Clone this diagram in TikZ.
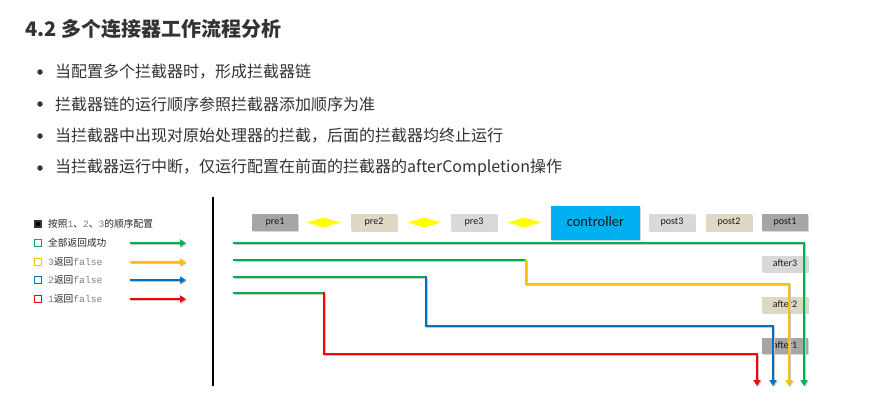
\documentclass[tikz,border=0pt]{standalone}
\usepackage{fontspec}
\setmainfont{Noto Sans CJK SC}
\newfontfamily\boxfont{Carlito}
\newfontfamily\codefont{Liberation Mono}
\usetikzlibrary{arrows.meta, shapes.geometric, shadows, positioning}
\definecolor{pageink}{HTML}{333333}
\definecolor{codegray}{HTML}{808080}
\definecolor{okgreen}{HTML}{00B050}
\definecolor{falseyellow}{HTML}{FFC000}
\definecolor{falseblue}{HTML}{0070C0}
\definecolor{falsered}{HTML}{FF0000}
\definecolor{stepdark}{HTML}{A6A6A6}
\definecolor{stepbeige}{HTML}{DDD9C4}
\definecolor{steplight}{HTML}{D9D9D9}
\definecolor{ctrlcyan}{HTML}{00B0F0}
\definecolor{gemyellow}{HTML}{FFFF00}

\begin{document}
\begin{tikzpicture}[
  x=1pt,
  y=-1pt,
  node distance=10pt,
  every node/.style={pageink},
  stepbox/.style={draw=none, inner sep=0pt, outer sep=0pt, minimum width=46pt,
                  minimum height=17pt, text=black!90,
                  text height=6.5pt, text depth=1.8pt,
                  font=\boxfont\fontsize{10}{12}\selectfont,
                  drop shadow={shadow xshift=1.3pt, shadow yshift=-1.3pt,
                               opacity=0.3}},
  gem/.style={diamond, fill=gemyellow, inner sep=0pt, outer sep=0pt,
              minimum width=33pt, minimum height=10pt},
  flow/.style={line width=2.4pt, line cap=rect,
               preaction={draw=black!22, line width=2.4pt,
                          transform canvas={xshift=1pt, yshift=-1.2pt}}},
  tip/.style={-{Triangle[length=6pt, width=7pt]}},
  legendmark/.style={draw, line width=1.5pt, inner sep=0pt,
                     minimum size=7pt},
  legendtext/.style={anchor=west, inner sep=0pt, text=black!85,
                     font=\fontsize{9.7}{11}\selectfont},
  bulletdot/.style={circle, fill=pageink, inner sep=0pt, minimum size=5.5pt}
]
  \useasboundingbox (0,0) rectangle (887,410);
  \fill[white] (0,0) rectangle (887,410);

  % ---- heading and bullet list ------------------------------------------
  \node[anchor=west, inner sep=0pt, font=\bfseries\fontsize{20}{24}\selectfont]
    (heading) at (25,29) {4.2 多个连接器工作流程分析};

  \foreach \i/\y/\t in {1/72/{当配置多个拦截器时，形成拦截器链},
                        2/104/{拦截器链的运行顺序参照拦截器添加顺序为准},
                        3/136/{当拦截器中出现对原始处理器的拦截，后面的拦截器均终止运行},
                        4/168/{当拦截器运行中断，仅运行配置在前面的拦截器的afterCompletion操作}} {
    \node[bulletdot] (dot\i) at (40,\y) {};
    \node[anchor=west, inner sep=0pt, font=\fontsize{16}{19}\selectfont]
      (item\i) at (55,\y) {\t};
  }

  % ---- legend -------------------------------------------------------------
  \node[legendmark, fill=black, minimum size=6pt] (mark0) at (38,224) {};
  \node[legendtext] (key0) at (48,224)
    {按照{\color{codegray}\codefont 1}、{\color{codegray}\codefont 2}、{\color{codegray}\codefont 3}的顺序配置};

  \foreach \i/\y/\c/\t in {1/243/okgreen/{全部返回成功},
                           2/262/falseyellow/{{\color{codegray}\codefont 3}返回{\color{codegray}\codefont false}},
                           3/280/falseblue/{{\color{codegray}\codefont 2}返回{\color{codegray}\codefont false}},
                           4/299/falsered/{{\color{codegray}\codefont 1}返回{\color{codegray}\codefont false}}} {
    \node[legendmark, draw=\c, fill=white] (mark\i) at (38,\y) {};
    \node[legendtext] (key\i) at (48,\y) {\t};
    \coordinate (keyfrom\i) at (130,\y);
    \coordinate (keyto\i) at (186,\y);
    \draw[\c, line width=2.2pt, tip,
          preaction={draw=black!22, line width=2.2pt,
                     transform canvas={xshift=1pt, yshift=-1.2pt}}]
      (keyfrom\i) -- (keyto\i);
  }

  % divider between legend and chain
  \coordinate (divtop) at (213,197);
  \coordinate (divbot) at (213,386);
  \draw[black, line width=1.4pt] (divtop) -- (divbot);

  % ---- interceptor chain, left to right -----------------------------------
  \node[stepbox, fill=stepdark] (pre1) at (275,222.5) {pre1};
  \node[gem, right=9pt of pre1] (gemA) {};
  \node[stepbox, fill=stepbeige, right=11pt of gemA] (pre2) {pre2};
  \node[gem, right=11pt of pre2] (gemB) {};
  \node[stepbox, fill=steplight, right=10pt of gemB] (pre3) {pre3};
  \node[gem, right=11pt of pre3] (gemC) {};
  \node[stepbox, fill=ctrlcyan, minimum width=89pt, minimum height=34pt,
        text height=10pt, text depth=2.5pt,
        font=\boxfont\fontsize{14.5}{17}\selectfont, right=10pt of gemC]
    (controller) {controller};
  \node[stepbox, fill=steplight, right=9pt of controller] (post3) {post3};
  \node[stepbox, fill=stepbeige, right=11pt of post3] (post2) {post2};
  \node[stepbox, fill=stepdark, right=10pt of post2] (post1) {post1};

  \node[stepbox, fill=steplight, minimum height=16pt, below=25pt of post1]
    (after3) {after3};
  \node[stepbox, fill=stepbeige, minimum height=16pt, below=25pt of after3]
    (after2) {after2};
  \node[stepbox, fill=stepdark, minimum height=16pt, below=25pt of after2]
    (after1) {after1};

  % ---- the four runs ------------------------------------------------------
  \coordinate (runA) at (234,243);
  \coordinate (runAturn) at (804,243);
  \coordinate (runAend) at (804,386);

  \coordinate (runB) at (234,260);
  \coordinate (runBstop) at (526,260);
  \coordinate (runBback) at (526,284);
  \coordinate (runBturn) at (789,284);
  \coordinate (runBend) at (789,386);

  \coordinate (runC) at (234,277);
  \coordinate (runCstop) at (426,277);
  \coordinate (runCback) at (426,326);
  \coordinate (runCturn) at (773,326);
  \coordinate (runCend) at (773,386);

  \coordinate (runD) at (234,293);
  \coordinate (runDstop) at (324,293);
  \coordinate (runDback) at (324,354);
  \coordinate (runDturn) at (757,354);
  \coordinate (runDend) at (757,386);

  % everything passes: green right through
  \draw[flow, okgreen, tip] (runA) -- (runAturn) -- (runAend);

  % 3 returns false
  \draw[flow, okgreen] (runB) -- (runBstop);
  \draw[flow, falseyellow, tip] (runBstop) -- (runBback) -- (runBturn) -- (runBend);

  % 2 returns false
  \draw[flow, okgreen] (runC) -- (runCstop);
  \draw[flow, falseblue, tip] (runCstop) -- (runCback) -- (runCturn) -- (runCend);

  % 1 returns false
  \draw[flow, okgreen] (runD) -- (runDstop);
  \draw[flow, falsered, tip] (runDstop) -- (runDback) -- (runDturn) -- (runDend);
\end{tikzpicture}
\end{document}
